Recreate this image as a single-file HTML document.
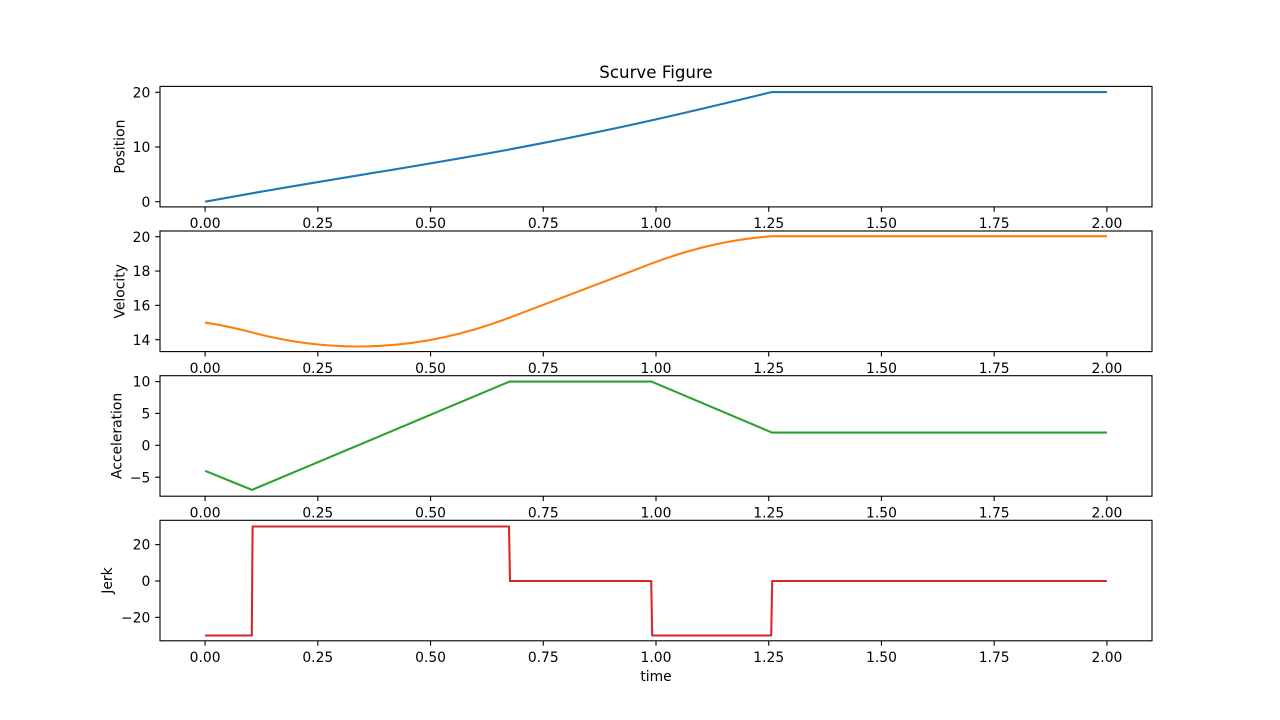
<!DOCTYPE html>
<html>
<head>
<meta charset="utf-8">
<style>
html,body{margin:0;padding:0;background:#fff;}
svg{display:block;}
text{font-family:"DejaVu Sans","Liberation Sans",sans-serif;fill:#000;}
.t{font-size:13.89px;}
</style>
</head>
<body>
<svg width="1280" height="720" viewBox="0 0 1280 720" xmlns="http://www.w3.org/2000/svg">
<rect width="1280" height="720" fill="#fff"/>

<!-- Title -->
<text x="656" y="78.2" font-size="16.67" text-anchor="middle">Scurve Figure</text>

<!-- ============ Axis 1: Position ============ -->
<g>
  <path d="M205.09,201.7 C220.72,198.86 236.35,196.05 251.99,193.31 C337.81,178.29 423.63,165.35 509.45,149.44 C556.80,140.66 604.15,130.98 651.49,120.39 C691.62,111.42 731.75,101.79 771.88,92.04 L1106.91,92.04" fill="none" stroke="#1f77b4" stroke-width="2.08" stroke-linejoin="round"/>
  <rect x="160" y="86.4" width="992" height="120.5" fill="none" stroke="#000" stroke-width="1.11"/>
  <g stroke="#000" stroke-width="1.11">
    <line x1="155.14" y1="201.7" x2="160" y2="201.7"/>
    <line x1="155.14" y1="147.0" x2="160" y2="147.0"/>
    <line x1="155.14" y1="92.3" x2="160" y2="92.3"/>
  </g>
  <g class="t" text-anchor="end">
    <text x="150.3" y="206.75" class="t">0</text>
    <text x="150.3" y="152.05" class="t">10</text>
    <text x="150.3" y="97.35" class="t">20</text>
  </g>
  <g stroke="#000" stroke-width="1.11">
    <line x1="205.09" y1="206.9" x2="205.09" y2="211.76"/>
    <line x1="317.82" y1="206.9" x2="317.82" y2="211.76"/>
    <line x1="430.55" y1="206.9" x2="430.55" y2="211.76"/>
    <line x1="543.27" y1="206.9" x2="543.27" y2="211.76"/>
    <line x1="656.0" y1="206.9" x2="656.0" y2="211.76"/>
    <line x1="768.73" y1="206.9" x2="768.73" y2="211.76"/>
    <line x1="881.46" y1="206.9" x2="881.46" y2="211.76"/>
    <line x1="994.18" y1="206.9" x2="994.18" y2="211.76"/>
    <line x1="1106.91" y1="206.9" x2="1106.91" y2="211.76"/>
  </g>
  <g text-anchor="middle">
    <text class="t" x="205.09" y="228.1">0.00</text>
    <text class="t" x="317.82" y="228.1">0.25</text>
    <text class="t" x="430.55" y="228.1">0.50</text>
    <text class="t" x="543.27" y="228.1">0.75</text>
    <text class="t" x="656.0" y="228.1">1.00</text>
    <text class="t" x="768.73" y="228.1">1.25</text>
    <text class="t" x="881.46" y="228.1">1.50</text>
    <text class="t" x="994.18" y="228.1">1.75</text>
    <text class="t" x="1106.91" y="228.1">2.00</text>
  </g>
  <text class="t" text-anchor="middle" transform="translate(124.5,146.65) rotate(-90)">Position</text>
</g>

<!-- ============ Axis 2: Velocity ============ -->
<g>
  <path d="M205.09,322.55 Q228.54,326.12 251.99,332.37 Q380.72,366.69 509.45,317.67 L651.49,263.58 Q711.69,240.66 771.88,236.2 L1106.91,236.2" fill="none" stroke="#ff7f0e" stroke-width="2.08" stroke-linejoin="round"/>
  <rect x="160" y="231.0" width="992" height="120.6" fill="none" stroke="#000" stroke-width="1.11"/>
  <g stroke="#000" stroke-width="1.11">
    <line x1="155.14" y1="339.72" x2="160" y2="339.72"/>
    <line x1="155.14" y1="305.38" x2="160" y2="305.38"/>
    <line x1="155.14" y1="271.04" x2="160" y2="271.04"/>
    <line x1="155.14" y1="236.7" x2="160" y2="236.7"/>
  </g>
  <g text-anchor="end">
    <text x="150.3" y="344.77" class="t">14</text>
    <text x="150.3" y="310.43" class="t">16</text>
    <text x="150.3" y="276.09" class="t">18</text>
    <text x="150.3" y="241.75" class="t">20</text>
  </g>
  <g stroke="#000" stroke-width="1.11">
    <line x1="205.09" y1="351.6" x2="205.09" y2="356.46"/>
    <line x1="317.82" y1="351.6" x2="317.82" y2="356.46"/>
    <line x1="430.55" y1="351.6" x2="430.55" y2="356.46"/>
    <line x1="543.27" y1="351.6" x2="543.27" y2="356.46"/>
    <line x1="656.0" y1="351.6" x2="656.0" y2="356.46"/>
    <line x1="768.73" y1="351.6" x2="768.73" y2="356.46"/>
    <line x1="881.46" y1="351.6" x2="881.46" y2="356.46"/>
    <line x1="994.18" y1="351.6" x2="994.18" y2="356.46"/>
    <line x1="1106.91" y1="351.6" x2="1106.91" y2="356.46"/>
  </g>
  <g text-anchor="middle">
    <text class="t" x="205.09" y="372.8">0.00</text>
    <text class="t" x="317.82" y="372.8">0.25</text>
    <text class="t" x="430.55" y="372.8">0.50</text>
    <text class="t" x="543.27" y="372.8">0.75</text>
    <text class="t" x="656.0" y="372.8">1.00</text>
    <text class="t" x="768.73" y="372.8">1.25</text>
    <text class="t" x="881.46" y="372.8">1.50</text>
    <text class="t" x="994.18" y="372.8">1.75</text>
    <text class="t" x="1106.91" y="372.8">2.00</text>
  </g>
  <text class="t" text-anchor="middle" transform="translate(124.5,291.3) rotate(-90)">Velocity</text>
</g>

<!-- ============ Axis 3: Acceleration ============ -->
<g>
  <path d="M205.09,470.8 L251.99,489.9 L509.45,381.6 L651.49,381.6 L771.88,432.55 L1106.91,432.55" fill="none" stroke="#2ca02c" stroke-width="2.08" stroke-linejoin="round"/>
  <rect x="160" y="375.7" width="992" height="120.5" fill="none" stroke="#000" stroke-width="1.11"/>
  <g stroke="#000" stroke-width="1.11">
    <line x1="155.14" y1="477.2" x2="160" y2="477.2"/>
    <line x1="155.14" y1="445.3" x2="160" y2="445.3"/>
    <line x1="155.14" y1="413.4" x2="160" y2="413.4"/>
    <line x1="155.14" y1="381.6" x2="160" y2="381.6"/>
  </g>
  <g text-anchor="end">
    <text x="150.3" y="482.25" class="t">−5</text>
    <text x="150.3" y="450.35" class="t">0</text>
    <text x="150.3" y="418.45" class="t">5</text>
    <text x="150.3" y="386.65" class="t">10</text>
  </g>
  <g stroke="#000" stroke-width="1.11">
    <line x1="205.09" y1="496.2" x2="205.09" y2="501.06"/>
    <line x1="317.82" y1="496.2" x2="317.82" y2="501.06"/>
    <line x1="430.55" y1="496.2" x2="430.55" y2="501.06"/>
    <line x1="543.27" y1="496.2" x2="543.27" y2="501.06"/>
    <line x1="656.0" y1="496.2" x2="656.0" y2="501.06"/>
    <line x1="768.73" y1="496.2" x2="768.73" y2="501.06"/>
    <line x1="881.46" y1="496.2" x2="881.46" y2="501.06"/>
    <line x1="994.18" y1="496.2" x2="994.18" y2="501.06"/>
    <line x1="1106.91" y1="496.2" x2="1106.91" y2="501.06"/>
  </g>
  <g text-anchor="middle">
    <text class="t" x="205.09" y="517.4">0.00</text>
    <text class="t" x="317.82" y="517.4">0.25</text>
    <text class="t" x="430.55" y="517.4">0.50</text>
    <text class="t" x="543.27" y="517.4">0.75</text>
    <text class="t" x="656.0" y="517.4">1.00</text>
    <text class="t" x="768.73" y="517.4">1.25</text>
    <text class="t" x="881.46" y="517.4">1.50</text>
    <text class="t" x="994.18" y="517.4">1.75</text>
    <text class="t" x="1106.91" y="517.4">2.00</text>
  </g>
  <text class="t" text-anchor="middle" transform="translate(121.3,435.95) rotate(-90)">Acceleration</text>
</g>

<!-- ============ Axis 4: Jerk ============ -->
<g>
  <path d="M205.09,635.5 L251.8,635.5 L252.6,526.5 L509.0,526.5 L510.0,581 L651.2,581 L652.2,635.5 L771.2,635.5 L772.2,581 L1106.91,581" fill="none" stroke="#d62728" stroke-width="2.08" stroke-linejoin="round"/>
  <rect x="160" y="520.3" width="992" height="120.5" fill="none" stroke="#000" stroke-width="1.11"/>
  <g stroke="#000" stroke-width="1.11">
    <line x1="155.14" y1="617.35" x2="160" y2="617.35"/>
    <line x1="155.14" y1="581" x2="160" y2="581"/>
    <line x1="155.14" y1="544.65" x2="160" y2="544.65"/>
  </g>
  <g text-anchor="end">
    <text x="150.3" y="622.4" class="t">−20</text>
    <text x="150.3" y="586.05" class="t">0</text>
    <text x="150.3" y="549.7" class="t">20</text>
  </g>
  <g stroke="#000" stroke-width="1.11">
    <line x1="205.09" y1="640.8" x2="205.09" y2="645.66"/>
    <line x1="317.82" y1="640.8" x2="317.82" y2="645.66"/>
    <line x1="430.55" y1="640.8" x2="430.55" y2="645.66"/>
    <line x1="543.27" y1="640.8" x2="543.27" y2="645.66"/>
    <line x1="656.0" y1="640.8" x2="656.0" y2="645.66"/>
    <line x1="768.73" y1="640.8" x2="768.73" y2="645.66"/>
    <line x1="881.46" y1="640.8" x2="881.46" y2="645.66"/>
    <line x1="994.18" y1="640.8" x2="994.18" y2="645.66"/>
    <line x1="1106.91" y1="640.8" x2="1106.91" y2="645.66"/>
  </g>
  <g text-anchor="middle">
    <text class="t" x="205.09" y="662.1">0.00</text>
    <text class="t" x="317.82" y="662.1">0.25</text>
    <text class="t" x="430.55" y="662.1">0.50</text>
    <text class="t" x="543.27" y="662.1">0.75</text>
    <text class="t" x="656.0" y="662.1">1.00</text>
    <text class="t" x="768.73" y="662.1">1.25</text>
    <text class="t" x="881.46" y="662.1">1.50</text>
    <text class="t" x="994.18" y="662.1">1.75</text>
    <text class="t" x="1106.91" y="662.1">2.00</text>
  </g>
  <text class="t" text-anchor="middle" transform="translate(112,580.55) rotate(-90)">Jerk</text>
  <text class="t" text-anchor="middle" x="656" y="681">time</text>
</g>
</svg>
</body>
</html>
